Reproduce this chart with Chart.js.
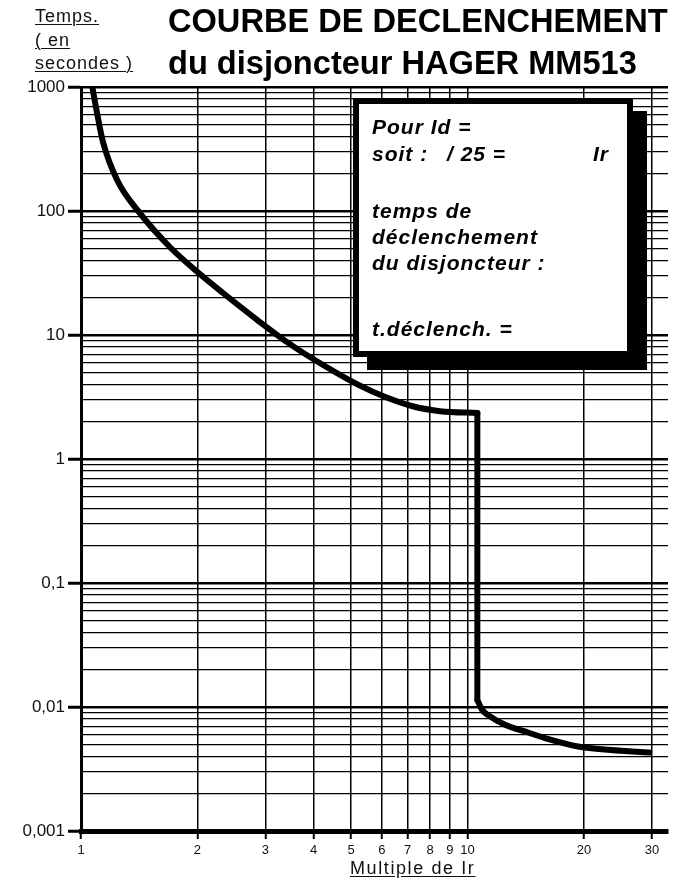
<!DOCTYPE html>
<html>
<head>
<meta charset="utf-8">
<script src="https://cdn.jsdelivr.net/npm/chart.js@4.4.1/dist/chart.umd.min.js"></script>
<style>
  html, body { margin: 0; padding: 0; background: #fff; }
  #wrap { position: relative; width: 688px; height: 883px; overflow: hidden; background: #fff; }
  canvas { position: absolute; left: 0; top: 0; }
  .t { position: absolute; white-space: pre; color: #000; font-family: "Liberation Sans", Arial, sans-serif; line-height: 1; }
  .title { font-weight: bold; font-size: 32.6px; left: 168px; }
  .ylab { font-size: 18px; letter-spacing: 1px; left: 35px; text-decoration: underline; text-decoration-thickness: 1px; text-underline-offset: 2px; color: #111; }
  .xlab { font-size: 18px; letter-spacing: 1.6px; text-decoration: underline; text-underline-offset: 2px; color: #111; }
  #box { position: absolute; left: 353px; top: 98px; width: 280px; height: 259px; box-sizing: border-box;
         border: 6px solid #000; background: #fff; box-shadow: 14px 13px 0 0 #000; }
  .bt { position: absolute; white-space: pre; font-family: "Liberation Sans", Arial, sans-serif; font-weight: bold; font-style: italic;
        font-size: 21px; letter-spacing: 1px; line-height: 1; color: #000; }
</style>
</head>
<body>
<div id="wrap">
  <canvas id="c" width="688" height="883"></canvas>
  <div class="t title" style="top:5px;">COURBE DE DECLENCHEMENT</div>
  <div class="t title" style="top:47px;">du disjoncteur HAGER MM513</div>
  <div class="t ylab" style="top:7px;">Temps.</div>
  <div class="t ylab" style="top:31px;">( en</div>
  <div class="t ylab" style="top:54px;">secondes )</div>
  <div class="t xlab" style="left:350px; top:859px;">Multiple de Ir</div>
  <div id="box">
    <div class="bt" style="left:13px; top:12px;">Pour Id =</div>
    <div class="bt" style="left:13px; top:39px;">soit :</div>
    <div class="bt" style="left:88px; top:39px;">/ 25 =</div>
    <div class="bt" style="left:234px; top:39px;">Ir</div>
    <div class="bt" style="left:13px; top:96px;">temps de</div>
    <div class="bt" style="left:13px; top:122px;">déclenchement</div>
    <div class="bt" style="left:13px; top:148px;">du disjoncteur :</div>
    <div class="bt" style="left:13px; top:214px;">t.déclench. =</div>
  </div>
</div>
<script>
// ---- data ----
// thermal (long-delay) part of the curve
const thermalMultiples = [1.07, 1.10, 1.14, 1.24, 1.42, 1.70, 2.03, 2.33, 2.86, 3.48, 4.24, 5.19, 6.13, 7.25, 8.5, 10.6];
const thermalTimes     = [1000, 620, 360, 178, 96, 51, 31, 21.8, 13.2, 8.4, 5.7, 4.0, 3.16, 2.65, 2.43, 2.35];
// magnetic trip: vertical drop
const dropMultiples = [10.6, 10.6];
const dropTimes     = [2.35, 0.0114];
// instantaneous part
const instMultiples = [10.6, 10.9, 11.3, 12.5, 14.4, 16.2, 19.3, 23.5, 29.5];
const instTimes     = [0.0114, 0.0095, 0.0086, 0.0072, 0.0062, 0.0055, 0.0048, 0.0045, 0.0043];

const xTickValues = [1, 2, 3, 4, 5, 6, 7, 8, 9, 10, 20, 30];
const xTickLabels = ['1', '2', '3', '4', '5', '6', '7', '8', '9', '10', '20', '30'];
const yDecades     = [0.001, 0.01, 0.1, 1, 10, 100, 1000];
const yTickLabels  = ['0,001', '0,01', '0,1', '1', '10', '100', '1000'];
const yMinorFactors = [1, 2, 3, 4, 5, 6, 7, 8, 9];

const yTickValues = [];
yDecades.forEach((d, i) => {
  if (i === yDecades.length - 1) { yTickValues.push(d); return; }
  yMinorFactors.forEach(f => yTickValues.push(+(d * f).toPrecision(6)));
});
function isDecade(v) {
  return yDecades.some(d => Math.abs(v - d) / d < 1e-6);
}
function decadeLabel(v) {
  const i = yDecades.findIndex(d => Math.abs(v - d) / d < 1e-6);
  return i >= 0 ? yTickLabels[i] : '';
}
function pts(xs, ys) { return xs.map((x, i) => ({ x: x, y: ys[i] })); }
function curve(xs, ys, mono) {
  return {
    data: pts(xs, ys),
    borderColor: '#000',
    borderWidth: 6,
    pointRadius: 0,
    tension: mono ? 0.4 : 0,
    cubicInterpolationMode: mono ? 'monotone' : 'default',
    borderJoinStyle: 'round',
    borderCapStyle: 'round',
    fill: false
  };
}

const ctx = document.getElementById('c').getContext('2d');
new Chart(ctx, {
  type: 'line',
  data: {
    datasets: [
      curve(thermalMultiples, thermalTimes, true),
      curve(dropMultiples, dropTimes, false),
      curve(instMultiples, instTimes, true)
    ]
  },
  options: {
    responsive: false,
    animation: false,
    devicePixelRatio: 1,
    layout: { padding: { left: 0, top: 87, right: 20, bottom: 0 } },
    plugins: { legend: { display: false }, tooltip: { enabled: false }, title: { display: false } },
    scales: {
      x: {
        type: 'logarithmic',
        position: 'bottom',
        min: 1,
        max: 33,
        afterFit: s => { s.height = 52; },
        afterBuildTicks: s => { s.ticks = xTickValues.map(v => ({ value: v })); },
        ticks: {
          autoSkip: false,
          maxRotation: 0,
          padding: 4,
          color: '#111',
          font: { family: 'Liberation Sans', size: 13 },
          callback: (v, i) => xTickLabels[i]
        },
        grid: { color: '#000', lineWidth: 1.5, tickLength: 8, tickWidth: 2, tickColor: '#000' },
        border: { display: true, color: '#000', width: 5 }
      },
      y: {
        type: 'logarithmic',
        position: 'left',
        min: 0.001,
        max: 1000,
        afterFit: s => { s.width = 81; },
        afterBuildTicks: s => { s.ticks = yTickValues.map(v => ({ value: v })); },
        ticks: {
          autoSkip: false,
          padding: 3,
          color: '#111',
          font: { family: 'Liberation Sans', size: 17 },
          callback: v => decadeLabel(v)
        },
        grid: {
          color: '#000',
          lineWidth: c => (c.tick && isDecade(c.tick.value)) ? 2.5 : 1.2,
          tickLength: 13,
          tickWidth: c => (c.tick && isDecade(c.tick.value)) ? 3 : 0,
          tickColor: c => (c.tick && isDecade(c.tick.value)) ? '#000' : 'rgba(0,0,0,0)'
        },
        border: { display: true, color: '#000', width: 3 }
      }
    }
  }
});
</script>
</body>
</html>
